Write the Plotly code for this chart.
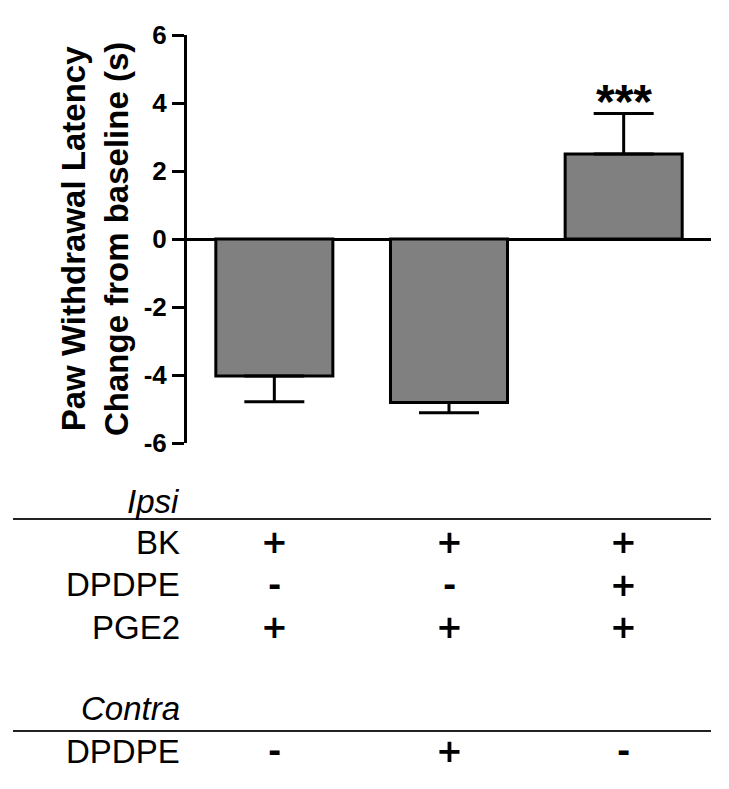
import plotly.graph_objects as go

# ---------------- data ----------------
values = [-4.03, -4.81, 2.50]          # mean change in paw withdrawal latency (s)
sem = [0.76, 0.30, 1.19]               # error bar length (away from zero)
sig_labels = ["", "", "***"]

y_tick_vals = [6, 4, 2, 0, -2, -4, -6]
y_tick_text = ["6", "4", "2", "0", "-2", "-4", "-6"]

y_title = "Paw Withdrawal Latency<br>Change from baseline (s)"

ipsi_header = "Ipsi"
ipsi_rows = ["BK", "DPDPE", "PGE2"]
ipsi_signs = [["+", "+", "+"],
              ["-", "-", "+"],
              ["+", "+", "+"]]

contra_header = "Contra"
contra_rows = ["DPDPE"]
contra_signs = [["-", "+", "-"]]

# ---------------- layout constants ----------------
OFF = 8                      # page body margin
W, H = 729 - 2 * OFF, 789 - 2 * OFF
# plot area in reference-page pixels
L, R, T, B = 187 - OFF, 711 - OFF, 35 - OFF, 443 - OFF

def pxx(p):
    return (p - OFF - L) / (R - L)

def pxy(p):
    return (B - (p - OFF)) / (B - T)

FONT = "Liberation Sans, Arial, Helvetica, sans-serif"
SIGN_FONT = "DejaVu Sans, Liberation Sans, sans-serif"

x = list(range(len(values)))
err_up = [e if v > 0 else 0 for v, e in zip(values, sem)]
err_dn = [e if v < 0 else 0 for v, e in zip(values, sem)]

fig = go.Figure()
fig.add_trace(go.Bar(
    x=x, y=values, width=0.67,
    marker=dict(color="#808080", line=dict(color="black", width=3)),
    error_y=dict(type="data", symmetric=False, array=err_up, arrayminus=err_dn,
                 color="black", thickness=3, width=30),
    showlegend=False, hoverinfo="skip",
))

annotations = []
# significance stars
for xi, v, e, s in zip(x, values, sem, sig_labels):
    if s:
        top = v + e if v > 0 else v - e
        annotations.append(dict(
            x=xi, y=top, xref="x", yref="y", text=s, showarrow=False,
            xanchor="center", yanchor="bottom", yshift=-16,
            font=dict(family=FONT, size=48, color="black", weight="bold")))

# y axis title
annotations.append(dict(
    x=pxx(95), y=0.5, xref="paper", yref="paper", text=y_title, showarrow=False,
    textangle=-90, xanchor="center", yanchor="middle",
    font=dict(family=FONT, size=33, color="black", weight="bold")))

LABEL_SIZE = 33
SIGN_SIZE = 32
label_right = pxx(182)

def add_header(text, ypix):
    annotations.append(dict(
        x=label_right, y=pxy(ypix), xref="paper", yref="paper", text=f"<i>{text}</i>",
        showarrow=False, xanchor="right", yanchor="middle",
        font=dict(family=FONT, size=LABEL_SIZE, color="black")))

def add_row(label, signs, ypix):
    annotations.append(dict(
        x=label_right, y=pxy(ypix), xref="paper", yref="paper", text=label,
        showarrow=False, xanchor="right", yanchor="middle",
        font=dict(family=FONT, size=LABEL_SIZE, color="black")))
    for xi, s in zip(x, signs):
        annotations.append(dict(
            x=xi, y=pxy(ypix), xref="x", yref="paper", text=s,
            showarrow=False, xanchor="center", yanchor="middle",
            font=dict(family=SIGN_FONT, size=SIGN_SIZE, color="black", weight="bold")))

add_header(ipsi_header, 501)
for lab, sg, yp in zip(ipsi_rows, ipsi_signs, [542, 584.5, 627]):
    add_row(lab, sg, yp)
add_header(contra_header, 708.5)
for lab, sg, yp in zip(contra_rows, contra_signs, [751]):
    add_row(lab, sg, yp)

shapes = [
    dict(type="line", xref="paper", yref="paper", x0=pxx(13), x1=pxx(711),
         y0=pxy(519), y1=pxy(519), line=dict(color="#222222", width=2)),
    dict(type="line", xref="paper", yref="paper", x0=pxx(13), x1=pxx(711),
         y0=pxy(731), y1=pxy(731), line=dict(color="#222222", width=2)),
]

fig.update_layout(
    width=W, height=H, autosize=False,
    margin=dict(l=L, r=W - R, t=T, b=H - B, pad=0),
    paper_bgcolor="white", plot_bgcolor="white",
    font=dict(family=FONT, color="black"),
    annotations=annotations, shapes=shapes,
    xaxis=dict(range=[-0.5, 2.5], visible=False, showgrid=False, zeroline=False),
    yaxis=dict(range=[-6, 6], tickvals=y_tick_vals, ticktext=y_tick_text,
               ticks="outside", ticklen=12, tickwidth=3, tickcolor="black",
               showline=True, linewidth=3, linecolor="black",
               showgrid=False, zeroline=True, zerolinecolor="black", zerolinewidth=3,
               tickfont=dict(family=FONT, size=26, color="black", weight="bold")),
)

fig.write_html("out.html")
